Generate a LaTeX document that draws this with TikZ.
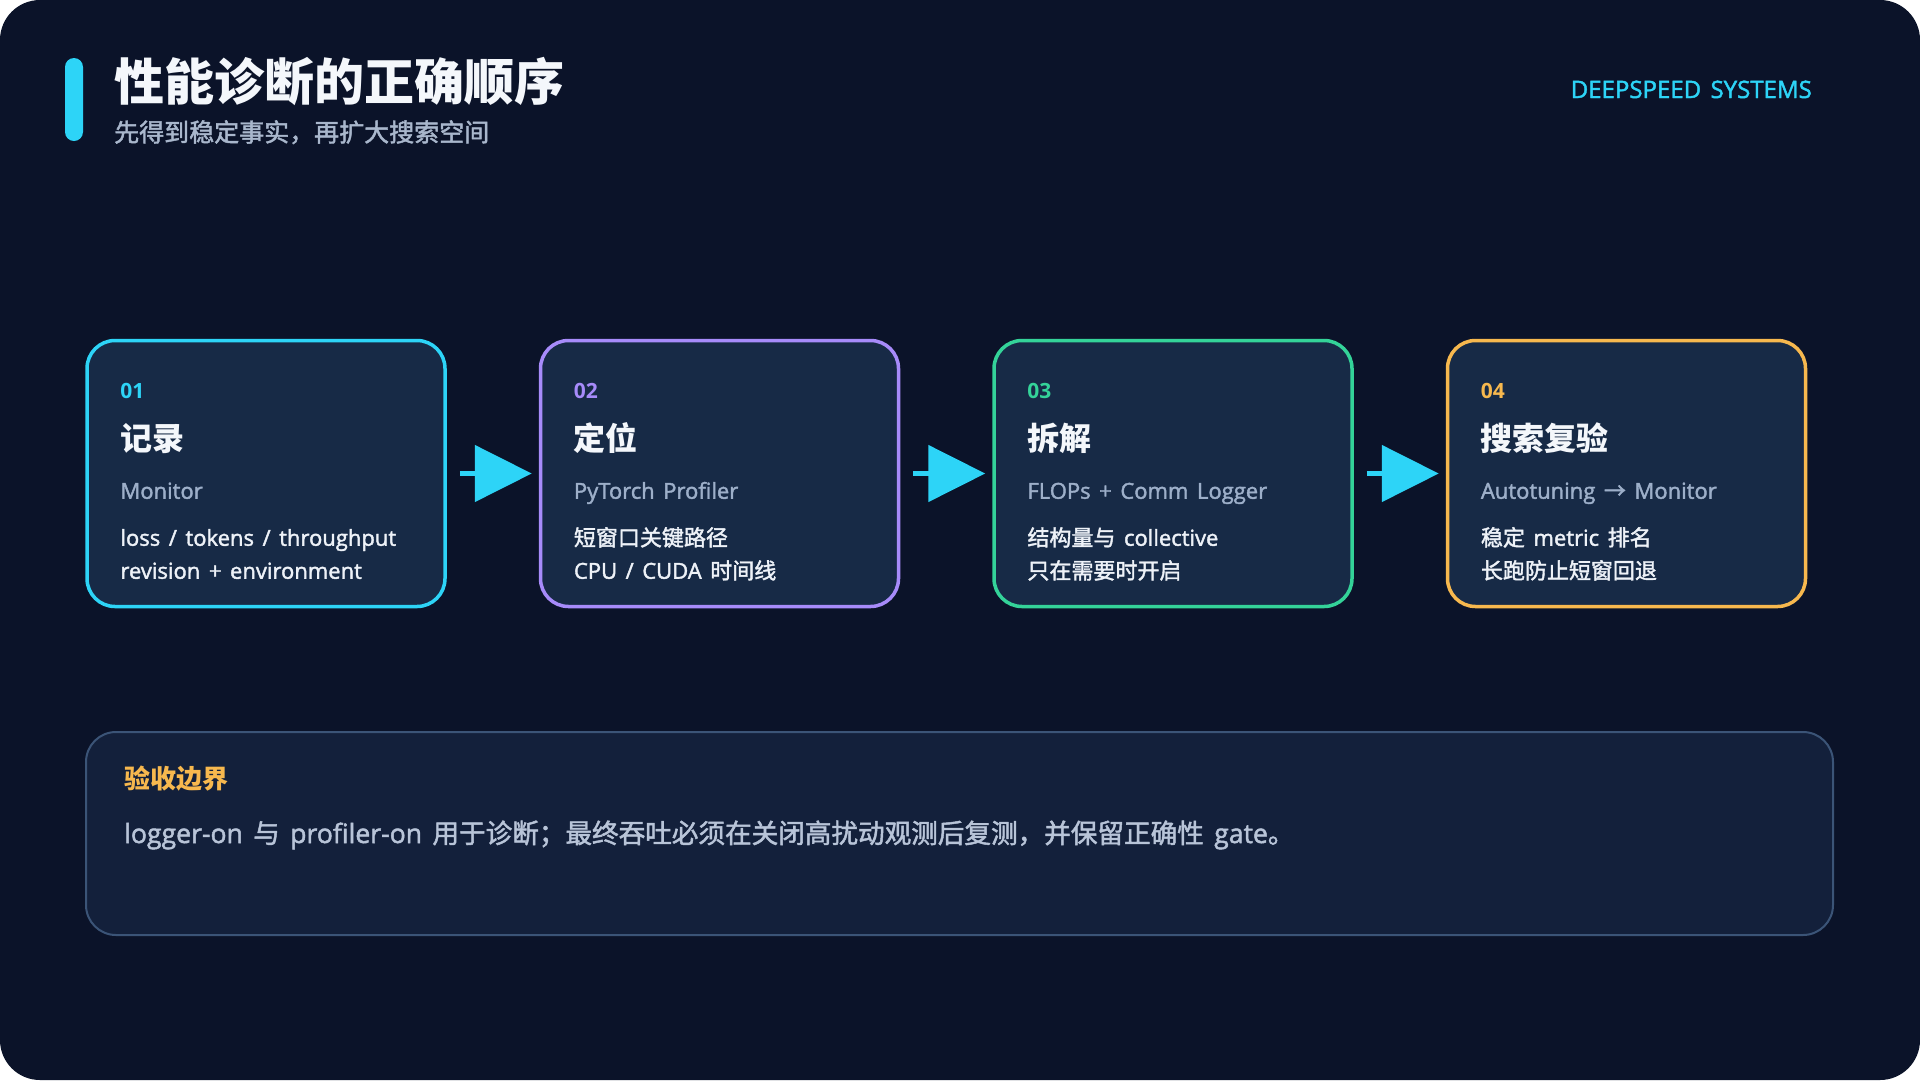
\documentclass[tikz,border=0pt]{standalone}
\usepackage{fontspec}
\setmainfont{Open Sans}[WordSpace=1.5, UprightFeatures={FakeBold=1.8}]
\newfontfamily\zhfont{Noto Sans CJK SC}[UprightFeatures={FakeBold=1.8}]
\newcommand{\zh}[1]{{\zhfont #1}}
\definecolor{PageBg}{HTML}{0B1329}
\definecolor{CardFill}{HTML}{172A46}
\definecolor{NoteFill}{HTML}{13203B}
\definecolor{NoteBorder}{HTML}{3B5477}
\definecolor{AccentCyan}{HTML}{2DD4F7}
\definecolor{StepViolet}{HTML}{A78BFA}
\definecolor{StepGreen}{HTML}{34D399}
\definecolor{StepAmber}{HTML}{F7B84E}
\definecolor{TitleWhite}{HTML}{F4F7FB}
\definecolor{SubGray}{HTML}{A9B7CC}
\definecolor{ToolGray}{HTML}{9DAFC9}
\definecolor{LineWhite}{HTML}{EEF2F8}
\definecolor{NoteText}{HTML}{B8C4D8}
\usetikzlibrary{arrows.meta,positioning,calc}
\tikzset{
  accentbar/.style={fill=AccentCyan, rounded corners=9pt, minimum width=18pt, minimum height=83pt, inner sep=0pt},
  stepcard/.style={draw=#1, line width=3.5pt, rounded corners=28pt, fill=CardFill, minimum width=358pt, minimum height=266pt, inner sep=0pt},
  cardnum/.style={anchor=base west, text=#1, inner sep=0pt, font=\bfseries\fontsize{21}{26}\selectfont},
  cardtitle/.style={anchor=base west, text=TitleWhite, inner sep=0pt, font=\zhfont\bfseries\fontsize{32}{36}\selectfont},
  cardtool/.style={anchor=base west, text=ToolGray, inner sep=0pt, font=\fontsize{22}{26}\selectfont},
  cardline/.style={anchor=base west, text=LineWhite, inner sep=0pt, font=\fontsize{22}{26}\selectfont},
  flowarrow/.style={-{Triangle[length=57pt,width=56pt]}, line width=5pt, draw=AccentCyan, shorten <=13pt, shorten >=7pt},
  notebox/.style={draw=NoteBorder, line width=2pt, rounded corners=30pt, fill=NoteFill, minimum width=1747pt, minimum height=203pt, inner sep=0pt}
}

\begin{document}
\begin{tikzpicture}[x=1pt, y=-1pt]
\useasboundingbox (0,0) rectangle (1920,1080);
\fill[white] (0,0) rectangle (1920,1080);
\fill[PageBg, rounded corners=40pt] (0,0) rectangle (1920,1080);

% header
\node[accentbar] (bar) at (74,99.5) {};
\node[anchor=base west, inner sep=0pt, text=TitleWhite, font=\zhfont\bfseries\fontsize{50}{56}\selectfont] (title) at (114,100.5) {性能诊断的正确顺序};
\node[anchor=base west, inner sep=0pt, text=SubGray, font=\zhfont\fontsize{25}{30}\selectfont] (subtitle) at (114,141.5) {先得到稳定事实，再扩大搜索空间};
\node[anchor=base east, inner sep=0pt, text=AccentCyan, font=\fontsize{24}{26}\selectfont] (brand) at (1812,98) {DEEPSPEED SYSTEMS};

% steps
\node[stepcard=AccentCyan] (monitor) at (266,473.5) {};
\node[stepcard=StepViolet, right=92pt of monitor] (profile) {};
\node[stepcard=StepGreen, right=92pt of profile] (decomp) {};
\node[stepcard=StepAmber, right=92pt of decomp] (tune) {};

\node[cardnum=AccentCyan] (monitor-num) at ($(monitor.north west)+(35,60)$) {01};
\node[cardtitle] (monitor-title) at ($(monitor.north west)+(35,112)$) {记录};
\node[cardtool] (monitor-tool) at ($(monitor.north west)+(35,160)$) {Monitor};
\node[cardline] (monitor-a) at ($(monitor.north west)+(35,207)$) {loss / tokens / throughput};
\node[cardline] (monitor-b) at ($(monitor.north west)+(35,240)$) {revision + environment};

\node[cardnum=StepViolet] (profile-num) at ($(profile.north west)+(35,60)$) {02};
\node[cardtitle] (profile-title) at ($(profile.north west)+(35,112)$) {定位};
\node[cardtool] (profile-tool) at ($(profile.north west)+(35,160)$) {PyTorch Profiler};
\node[cardline] (profile-a) at ($(profile.north west)+(35,207)$) {\zh{短窗口关键路径}};
\node[cardline] (profile-b) at ($(profile.north west)+(35,240)$) {CPU / CUDA \zh{时间线}};

\node[cardnum=StepGreen] (decomp-num) at ($(decomp.north west)+(35,60)$) {03};
\node[cardtitle] (decomp-title) at ($(decomp.north west)+(35,112)$) {拆解};
\node[cardtool] (decomp-tool) at ($(decomp.north west)+(35,160)$) {FLOPs + Comm Logger};
\node[cardline] (decomp-a) at ($(decomp.north west)+(35,207)$) {\zh{结构量与} collective};
\node[cardline] (decomp-b) at ($(decomp.north west)+(35,240)$) {\zh{只在需要时开启}};

\node[cardnum=StepAmber] (tune-num) at ($(tune.north west)+(35,60)$) {04};
\node[cardtitle] (tune-title) at ($(tune.north west)+(35,112)$) {搜索复验};
\node[cardtool] (tune-tool) at ($(tune.north west)+(35,160)$) {Autotuning \zh{→} Monitor};
\node[cardline] (tune-a) at ($(tune.north west)+(35,207)$) {\zh{稳定} metric \zh{排名}};
\node[cardline] (tune-b) at ($(tune.north west)+(35,240)$) {\zh{长跑防止短窗回退}};

\draw[flowarrow] (monitor) -- (profile);
\draw[flowarrow] (profile) -- (decomp);
\draw[flowarrow] (decomp) -- (tune);

% acceptance note
\node[notebox] (note) at (959.5,833.5) {};
\node[anchor=base west, inner sep=0pt, text=StepAmber, font=\zhfont\bfseries\fontsize{26}{30}\selectfont] (note-label) at ($(note.north west)+(39,57)$) {验收边界};
\node[anchor=base west, inner sep=0pt, text=NoteText, font=\fontsize{26.6}{30}\selectfont] (note-text) at ($(note.north west)+(39,112)$) {logger-on \zh{与} profiler-on \zh{用于诊断；最终吞吐必须在关闭高扰动观测后复测，并保留正确性} gate\zh{。}};
\end{tikzpicture}
\end{document}
